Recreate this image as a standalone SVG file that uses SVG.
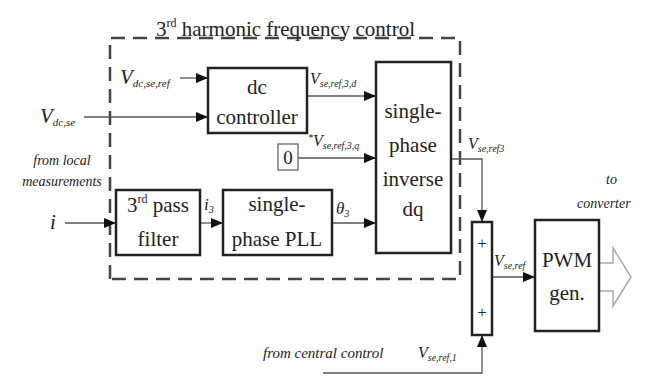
<svg xmlns="http://www.w3.org/2000/svg" width="649" height="377" viewBox="0 0 649 377">
<style>
.box{fill:none;stroke:#222;stroke-width:2.5}
.ln{fill:none;stroke:#555;stroke-width:1.3}
.t{font-family:"Liberation Serif","Times New Roman","DejaVu Serif",serif;fill:#222}
.c{text-anchor:middle}
.i{font-style:italic}
.dash{fill:none;stroke:#444;stroke-width:2.5;stroke-dasharray:14 8}
</style>
<defs>
<marker id="ah" viewBox="0 0 12 10" refX="12" refY="5" markerWidth="12" markerHeight="10" markerUnits="userSpaceOnUse" orient="auto">
<path d="M0,0 L12,5 L0,10 Z" fill="#111"/>
</marker>
</defs>
<rect width="649" height="377" fill="#fff"/>

<g id="frame">
<path class="dash" d="M110,279 V38 H460 V279 H110"/>
<text class="t" x="156" y="36" font-size="21">3<tspan font-size="12" dy="-9">rd</tspan><tspan dy="9"> harmonic frequency control</tspan></text>
</g>

<g id="connectors">
<line class="ln" x1="180" y1="78" x2="208" y2="78" marker-end="url(#ah)"/>
<line class="ln" x1="84" y1="117" x2="208" y2="117" marker-end="url(#ah)"/>
<line class="ln" x1="307" y1="96" x2="376" y2="96" marker-end="url(#ah)"/>
<line class="ln" x1="298" y1="158" x2="376" y2="158" marker-end="url(#ah)"/>
<line class="ln" x1="65" y1="223" x2="116" y2="223" marker-end="url(#ah)"/>
<line class="ln" x1="200" y1="223" x2="223" y2="223" marker-end="url(#ah)"/>
<line class="ln" x1="332" y1="223" x2="376" y2="223" marker-end="url(#ah)"/>
<path class="ln" d="M451,159 H482 V222" marker-end="url(#ah)"/>
<path class="ln" d="M323,373 H482 V335" marker-end="url(#ah)" stroke-width="2"/>
<line class="ln" x1="492" y1="277" x2="535" y2="277" marker-end="url(#ah)"/>
<path d="M599,263 H613 V248 L631,277 L613,306 V291 H599" fill="none" stroke="#aaa" stroke-width="1.5"/>
</g>

<g id="dc-controller">
<rect class="box" x="208" y="68" width="99" height="65"/>
<text class="t c" x="257" y="94" font-size="21">dc</text>
<text class="t c" x="257" y="124" font-size="21">controller</text>
</g>

<g id="zero">
<rect x="278" y="144" width="20" height="26" fill="none" stroke="#666" stroke-width="1.3"/>
<text class="t c" x="288" y="164" font-size="19">0</text>
</g>

<g id="inverse-dq">
<rect class="box" x="376" y="62" width="75" height="191"/>
<text class="t c" x="413" y="118" font-size="21">single-</text>
<text class="t c" x="413" y="152" font-size="21">phase</text>
<text class="t c" x="413" y="186" font-size="21">inverse</text>
<text class="t c" x="413" y="216" font-size="21">dq</text>
</g>

<g id="pass-filter">
<rect class="box" x="116" y="190" width="84" height="65"/>
<text class="t c" x="158" y="212" font-size="21">3<tspan font-size="12" dy="-9">rd</tspan><tspan dy="9"> pass</tspan></text>
<text class="t c" x="158" y="246" font-size="21">filter</text>
</g>

<g id="pll">
<rect class="box" x="223" y="190" width="109" height="65"/>
<text class="t c" x="277" y="211" font-size="21">single-</text>
<text class="t c" x="277" y="246" font-size="21">phase PLL</text>
</g>

<g id="summer">
<rect class="box" x="472" y="222" width="20" height="113" stroke-width="2"/>
<text class="t c" x="482" y="249" font-size="17" fill="#666">+</text>
<text class="t c" x="482" y="318" font-size="17" fill="#666">+</text>
</g>

<g id="pwm">
<rect class="box" x="535" y="220" width="64" height="111"/>
<text class="t c" x="567" y="267" font-size="21">PWM</text>
<text class="t c" x="567" y="300" font-size="21">gen.</text>
</g>

<g id="labels">
<text class="t i" x="120" y="84" font-size="21">V<tspan font-size="11" dy="3">dc,se,ref</tspan></text>
<text class="t i" x="40" y="123" font-size="21">V<tspan font-size="11" dy="3">dc,se</tspan></text>
<text class="t i c" x="62" y="165" font-size="14">from local</text>
<text class="t i c" x="62" y="186" font-size="14">measurements</text>
<text class="t i" x="50" y="229" font-size="21">i</text>
<text class="t i" x="204" y="210" font-size="17">i<tspan font-size="10" dy="3">3</tspan></text>
<text class="t i" x="336" y="214" font-size="17">θ<tspan font-size="10" dy="3">3</tspan></text>
<text class="t i" x="310" y="84" font-size="16">V<tspan font-size="10" dy="3">se,ref,3,d</tspan></text>
<text class="t i" x="308" y="146" font-size="16"><tspan font-size="10" dy="-5">*</tspan><tspan dy="5">V</tspan><tspan font-size="10" dy="3">se,ref,3,q</tspan></text>
<text class="t i" x="468" y="149" font-size="16">V<tspan font-size="10" dy="3">se,ref3</tspan></text>
<text class="t i" x="494" y="266" font-size="16">V<tspan font-size="10" dy="3">se,ref</tspan></text>
<text class="t i" x="263" y="358" font-size="15">from central control</text>
<text class="t i" x="418" y="358" font-size="16">V<tspan font-size="10" dy="3">se,ref,1</tspan></text>
<text class="t i" x="606" y="184" font-size="14">to</text>
<text class="t i" x="577" y="208" font-size="14">converter</text>
</g>
</svg>
